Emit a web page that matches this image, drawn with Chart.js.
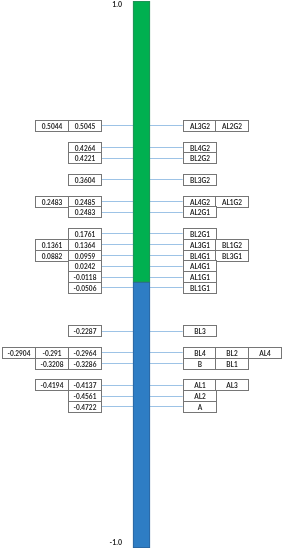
<!DOCTYPE html>
<html lang="en">
<head>
<meta charset="UTF-8">
<title>Value ladder</title>
<script src="https://cdn.jsdelivr.net/npm/chart.js"></script>
<style>
  html, body { margin: 0; padding: 0; background: #fff; }
  .chart-container { position: relative; width: 283px; height: 550px; }
</style>
</head>
<body>
<div class="chart-container"><canvas id="ladderChart"></canvas></div>
<script>
// Labels at the two ends of the bar
const endLabels = ['1.0', '-1.0'];

// One entry per row, top to bottom; null = empty spacer row.
// Left side: the last value in each row sits next to the connector line.
const leftValues = [
  [0.5044, 0.5045],
  null,
  [0.4264],
  [0.4221],
  null,
  [0.3604],
  null,
  [0.2483, 0.2485],
  [0.2483],
  null,
  [0.1761],
  [0.1361, 0.1364],
  [0.0882, 0.0959],
  [0.0242],
  [-0.0118],
  [-0.0506],
  null, null, null,
  [-0.2287],
  null,
  [-0.2904, -0.291, -0.2964],
  [-0.3208, -0.3286],
  null,
  [-0.4194, -0.4137],
  [-0.4561],
  [-0.4722]
];

// Right side: the first label in each row sits next to the connector line.
const rightLabels = [
  ['AL3G2', 'AL2G2'],
  null,
  ['BL4G2'],
  ['BL2G2'],
  null,
  ['BL3G2'],
  null,
  ['AL4G2', 'AL1G2'],
  ['AL2G1'],
  null,
  ['BL2G1'],
  ['AL3G1', 'BL1G2'],
  ['BL4G1', 'BL3G1'],
  ['AL4G1'],
  ['AL1G1'],
  ['BL1G1'],
  null, null, null,
  ['BL3'],
  null,
  ['BL4', 'BL2', 'AL4'],
  ['B', 'BL1'],
  null,
  ['AL1', 'AL3'],
  ['AL2'],
  ['A']
];

// first row drawn against the blue part of the bar
const firstBlueLabel = 'BL1G1';

// vertical axis runs in row units; ends are the bar ends
const ROW_TOP = -11.5;
const ROW_BOTTOM = 39.1;
const splitRow = rightLabels.findIndex(r => r && r.includes(firstBlueLabel)) - 0.5;

const BOX_W = 32.7;
const TEXT = '#262626';

const ladderPlugin = {
    id: 'ladder',
    beforeDatasetsDraw(chart) {
        const ctx = chart.ctx;
        const y = chart.scales.y;
        const bar = chart.getDatasetMeta(0).data[0];
        const left = bar.x - bar.width / 2;
        const right = bar.x + bar.width / 2;
        ctx.save();
        ctx.strokeStyle = '#9dc3e6';
        ctx.lineWidth = 1;
        leftValues.forEach((row, i) => {
            if (!row) return;
            const py = Math.round(y.getPixelForValue(i)) + 0.5;
            ctx.beginPath();
            ctx.moveTo(left - BOX_W, py);
            ctx.lineTo(right + BOX_W, py);
            ctx.stroke();
        });
        ctx.restore();
    },
    afterDatasetsDraw(chart) {
        const ctx = chart.ctx;
        const y = chart.scales.y;
        const bar = chart.getDatasetMeta(0).data[0];
        const left = bar.x - bar.width / 2;
        const right = bar.x + bar.width / 2;
        const rowH = Math.abs(y.getPixelForValue(1) - y.getPixelForValue(0));

        function box(x0, yc, text) {
            const bx = Math.round(x0) + 0.5;
            const by = Math.round(yc - rowH / 2) + 0.5;
            const bw = Math.round(BOX_W);
            const bh = Math.round(rowH);
            ctx.fillStyle = '#ffffff';
            ctx.fillRect(bx, by, bw, bh);
            ctx.strokeStyle = '#767676';
            ctx.strokeRect(bx, by, bw, bh);
            ctx.fillStyle = TEXT;
            ctx.fillText(text, bx + bw / 2, by + bh / 2 + 0.5);
        }

        ctx.save();
        ctx.lineWidth = 1;
        ctx.font = 'bold 6.5px Lato';
        ctx.textAlign = 'center';
        ctx.textBaseline = 'middle';
        leftValues.forEach((row, i) => {
            if (!row) return;
            const yc = y.getPixelForValue(i);
            row.slice().reverse().forEach((v, k) => {
                box(left - BOX_W * (k + 2), yc, String(v));
            });
        });
        rightLabels.forEach((row, i) => {
            if (!row) return;
            const yc = y.getPixelForValue(i);
            row.forEach((t, k) => {
                box(right + BOX_W * (k + 1), yc, t);
            });
        });

        // end labels beside the bar
        ctx.font = 'bold 7px Lato';
        ctx.textAlign = 'right';
        ctx.fillStyle = TEXT;
        ctx.fillText(endLabels[0], left - 11, y.getPixelForValue(ROW_TOP) + 4);
        ctx.fillText(endLabels[1], left - 11, y.getPixelForValue(ROW_BOTTOM) - 5);
        ctx.restore();
    }
};

new Chart(document.getElementById('ladderChart').getContext('2d'), {
    type: 'bar',
    data: {
        labels: [''],
        datasets: [{
            data: [[ROW_TOP, splitRow]],
            backgroundColor: '#00b050',
            borderColor: '#2a8a5a',
            borderWidth: 1,
            borderSkipped: false,
            barThickness: 17,
            grouped: false
        }, {
            data: [[splitRow, ROW_BOTTOM]],
            backgroundColor: '#2e7dc4',
            borderColor: '#2a629a',
            borderWidth: 1,
            borderSkipped: false,
            barThickness: 17,
            grouped: false
        }]
    },
    options: {
        responsive: true,
        maintainAspectRatio: false,
        animation: false,
        layout: { padding: { top: 1, bottom: 2, left: 0, right: 0 } },
        plugins: { legend: { display: false }, tooltip: { enabled: false } },
        scales: {
            x: { display: false },
            y: { display: false, reverse: true, min: ROW_TOP, max: ROW_BOTTOM }
        }
    },
    plugins: [ladderPlugin]
});
</script>
</body>
</html>
